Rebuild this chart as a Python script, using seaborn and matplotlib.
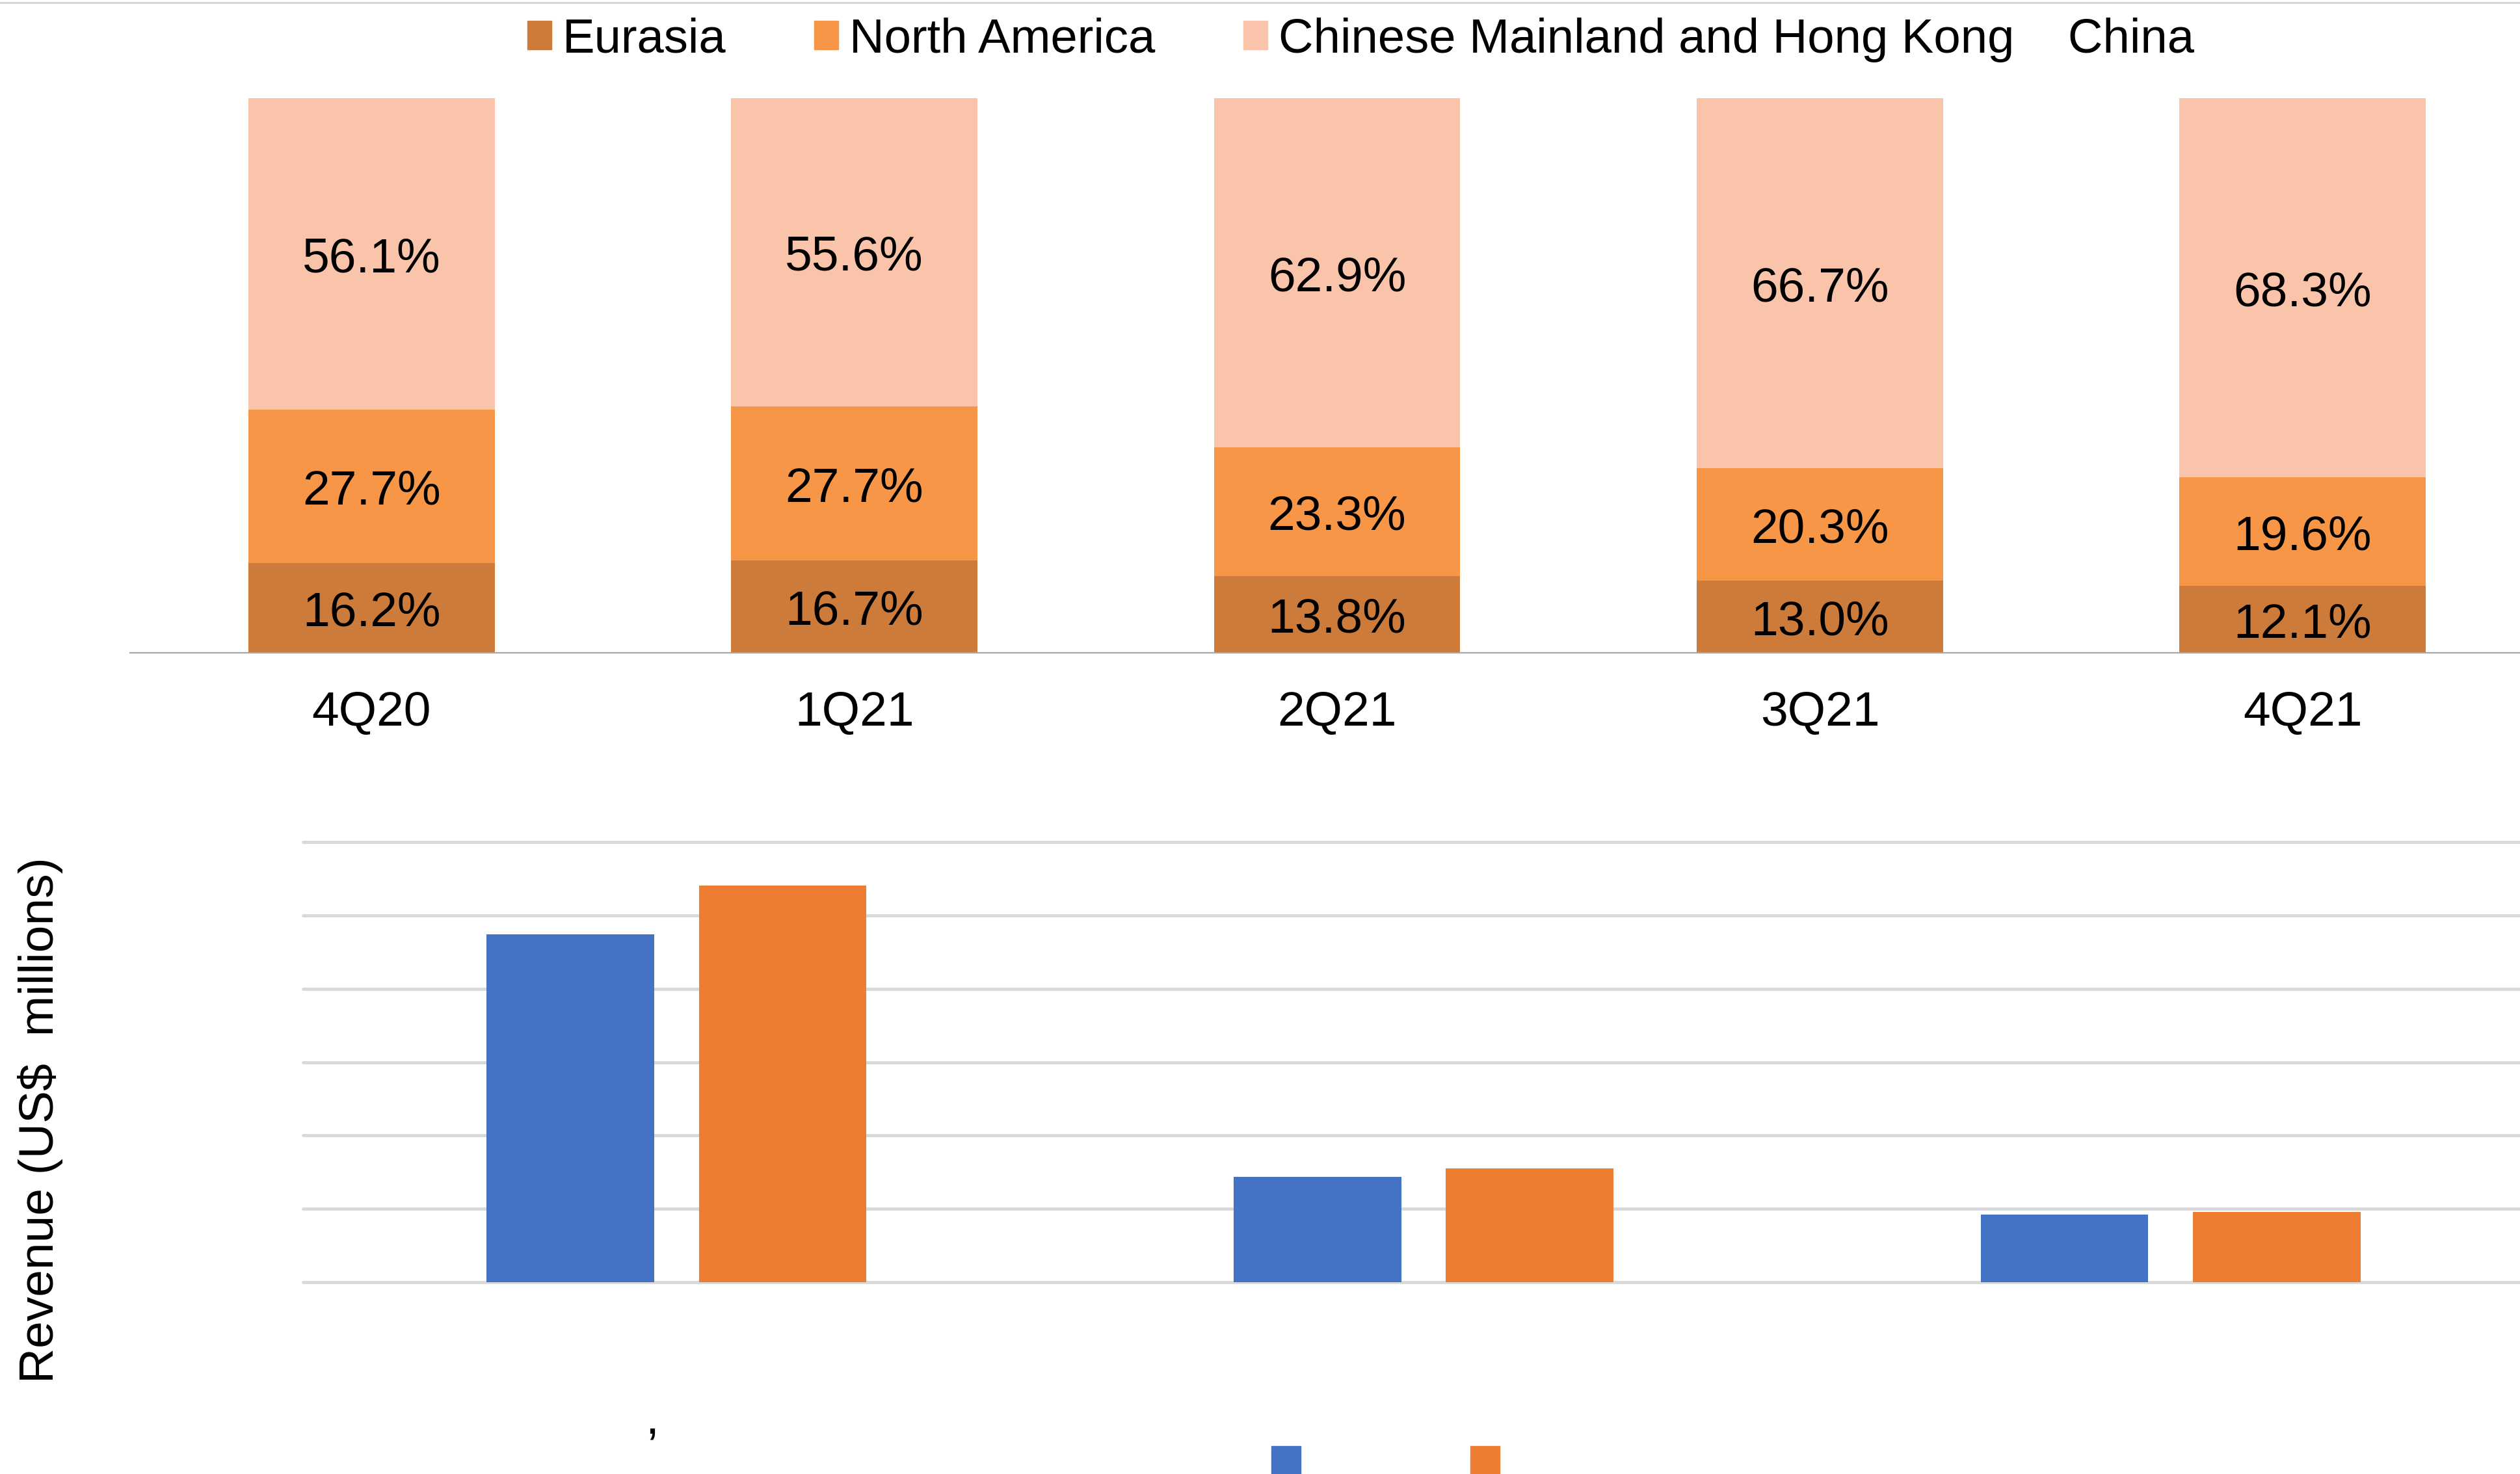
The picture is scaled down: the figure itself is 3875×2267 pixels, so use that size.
import pandas as pd
import seaborn as sns
import matplotlib.pyplot as plt
from matplotlib.patches import Patch
from matplotlib.lines import Line2D

# regional revenue mix by quarter (%)
quarters = ["4Q20", "1Q21", "2Q21", "3Q21", "4Q21"]
eurasia = [16.2, 16.7, 13.8, 13.0, 12.1]
north_america = [27.7, 27.7, 23.3, 20.3, 19.6]
china = [56.1, 55.6, 62.9, 66.7, 68.3]
mix_labels = ["Eurasia", "North America", "Chinese Mainland and Hong Kong    China"]

regions = ["Chinese Mainland and Hong Kong, China", "North America", "Eurasia"]
periods = ["3Q21", "4Q21"]
rev_3q21 = [474, 144, 92]
rev_4q21 = [541, 155, 96]

c_eur, c_na, c_cn = "#CC7B3A", "#F79646", "#F9C4AA"
c_blue, c_orange = "#4472C4", "#ED7D31"
FS = 54

sns.set_style("white")
plt.rcParams["font.family"] = ["Liberation Sans", "DejaVu Sans"]
plt.rcParams["text.color"] = "black"
plt.rcParams["axes.labelcolor"] = "black"
plt.rcParams["xtick.color"] = "black"
plt.rcParams["ytick.color"] = "black"

W, H = 3875, 2267
fig = plt.figure(figsize=(W / 100, H / 100), dpi=100)

# ---- top: stacked 100% bars ----
ax1 = fig.add_axes([200 / W, 1 - 1004 / H, (3912 - 200) / W, (1004 - 151) / H])
top = pd.DataFrame({"quarter": quarters, "eur": eurasia, "na": north_america, "cn": china})
top["lvl2"] = top["eur"] + top["na"]
top["lvl3"] = top["lvl2"] + top["cn"]

for col, c in [("lvl3", c_cn), ("lvl2", c_na), ("eur", c_eur)]:
    sns.barplot(data=top, x="quarter", y=col, color=c, width=0.51, saturation=1,
                linewidth=0, errorbar=None, ax=ax1)

for i in range(len(quarters)):
    e, n, c = eurasia[i], north_america[i], china[i]
    for y, v in [(e / 2, e), (e + n / 2, n), (e + n + c / 2, c)]:
        ax1.annotate(f"{v:.1f}%", (i, y), xytext=(0, -6), textcoords="offset points",
                     ha="center", va="center", fontsize=FS)

ax1.set_xlim(-0.5, 4.5)
ax1.set_ylim(0, 100)
ax1.set_xlabel("")
ax1.set_ylabel("")
ax1.set_yticks([])
ax1.tick_params(axis="x", length=0, pad=42, labelsize=FS)
for s in ["top", "left", "right"]:
    ax1.spines[s].set_visible(False)
ax1.spines["bottom"].set_color("#A6A6A6")
ax1.spines["bottom"].set_linewidth(1.6)

handles = [Patch(color=c) for c in (c_eur, c_na, c_cn)]
fig.legend(handles, mix_labels, loc="center left", bbox_to_anchor=(811 / W, 1 - 61 / H),
           ncol=3, frameon=False, fontsize=53.5, handlelength=0.5, handleheight=0.52,
           handletextpad=0.23, columnspacing=1.82, borderpad=0, borderaxespad=0)

# ---- bottom: grouped revenue bars ----
ax2 = fig.add_axes([466 / W, 1 - 1972 / H, (3912 - 466) / W, (1972 - 1295) / H])
bot = pd.DataFrame({
    "region": regions * 2,
    "period": [periods[0]] * 3 + [periods[1]] * 3,
    "revenue": rev_3q21 + rev_4q21,
})
sns.barplot(data=bot, x="region", y="revenue", hue="period", order=regions,
            hue_order=periods, palette=[c_blue, c_orange], width=0.568, gap=0.21,
            saturation=1, linewidth=0, errorbar=None, legend=False, ax=ax2)

ax2.set_xlim(-0.5, 2.5)
ax2.set_ylim(0, 600)
ax2.set_yticks(range(0, 700, 100))
ax2.grid(axis="y", color="#D9D9D9", linewidth=3.5)
ax2.set_axisbelow(True)
for gl in ax2.get_ygridlines():
    gl.set_clip_on(False)
ax2.tick_params(labelbottom=False, labelleft=False, length=0)
for s in ax2.spines.values():
    s.set_visible(False)
ax2.set_xlabel("")
ax2.set_ylabel("Revenue (US$  millions)", fontsize=FS)
ax2.yaxis.set_label_coords(-0.1172, 0.3678)
ax2.yaxis.label.set_va("center")

fig.legend([Patch(color=c_blue), Patch(color=c_orange)], ["", ""], loc="upper left",
           bbox_to_anchor=(1955 / W, 1 - 2222 / H), ncol=2, frameon=False, fontsize=FS,
           handlelength=0.6, handleheight=0.7, handletextpad=0, columnspacing=3.48,
           borderpad=0, borderaxespad=0)

fig.text(1003 / W, 1 - 2205 / H, ",", ha="center", va="baseline", fontsize=FS)

# thin rule along the top edge
fig.add_artist(Line2D([0, 1], [1 - 4 / H] * 2, transform=fig.transFigure,
                      color="#D9D9D9", linewidth=2.2))

fig.savefig("out.png", dpi=100)
